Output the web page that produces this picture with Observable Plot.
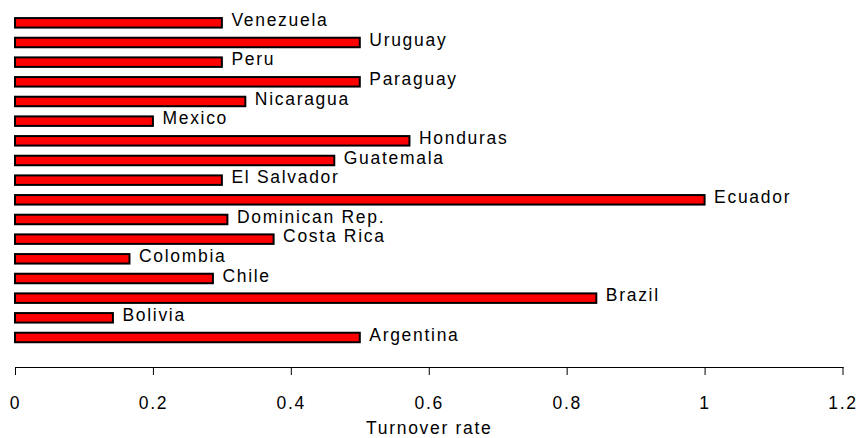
<!DOCTYPE html>
<html>
<head>
<meta charset="utf-8">
<script src="https://cdn.jsdelivr.net/npm/d3@7"></script>
<script src="https://cdn.jsdelivr.net/npm/@observablehq/plot@0.6"></script>
<style>
  html, body { margin: 0; padding: 0; background: #fff; }
  #chart svg { display: block; }
</style>
</head>
<body>
<div id="chart"></div>
<script>
// Countries, top to bottom as drawn
const countries = ["Venezuela", "Uruguay", "Peru", "Paraguay", "Nicaragua", "Mexico", "Honduras", "Guatemala", "El Salvador", "Ecuador", "Dominican Rep.", "Costa Rica", "Colombia", "Chile", "Brazil", "Bolivia", "Argentina"];
const turnover = [0.30, 0.50, 0.30, 0.50, 0.334, 0.20, 0.572, 0.463, 0.30, 1.00, 0.308, 0.375, 0.166, 0.287, 0.843, 0.142, 0.50];
const xTicks = [0, 0.2, 0.4, 0.6, 0.8, 1, 1.2];
const xLabel = "Turnover rate";

const data = countries.map((c, i) => ({country: c, value: turnover[i]}));

const chart = Plot.plot({
  width: 861,
  height: 438,
  marginLeft: 15,
  marginRight: 18.5,
  marginTop: 0,
  marginBottom: 71,
  style: {fontFamily: "'Liberation Sans', Arial, sans-serif", fontSize: "17.5px", letterSpacing: "1.7px", background: "#fff", color: "#000"},
  x: {domain: [0, 1.2]},
  y: {domain: countries, range: [7.9, 352.4], padding: 0.517, round: false, axis: null},
  marks: [
    Plot.barX(data, {x: "value", y: "country", fill: "#ff0000", stroke: "#000", strokeWidth: 2}),
    Plot.text(data, {x: "value", y: "country", text: "country", textAnchor: "start", dx: 9, dy: -3, fill: "#000"}),
    Plot.frame({anchor: "bottom", stroke: "#000", strokeWidth: 1}),
    Plot.axisX({ticks: xTicks, tickFormat: d => String(d), tickSize: 8, tickPadding: 21, label: xLabel, labelAnchor: "center", labelArrow: "none", labelOffset: 66, stroke: "#000"})
  ]
});
document.getElementById("chart").appendChild(chart);
</script>
</body>
</html>
